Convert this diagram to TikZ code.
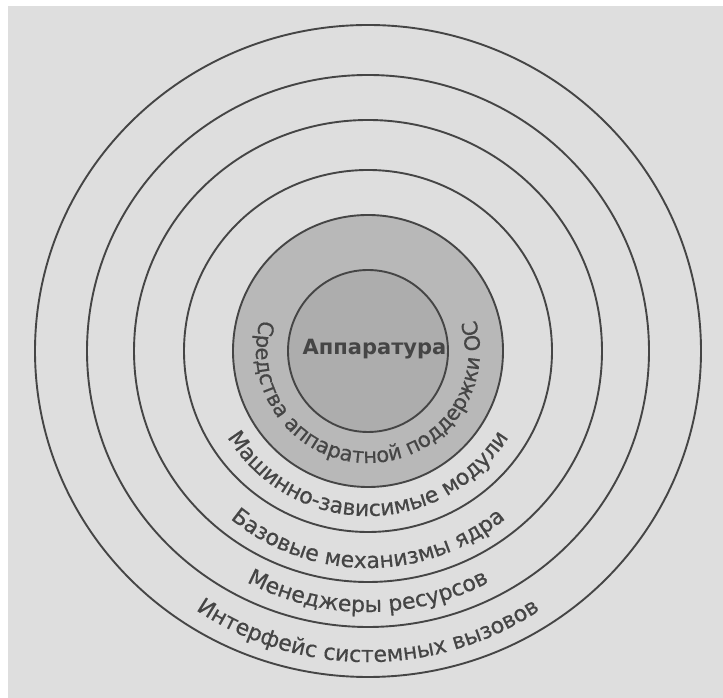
\documentclass[tikz,border=0pt]{standalone}
\usepackage{fontspec}
\setmainfont{DejaVu Sans}
\newfontfamily\ringfam[FakeBold=0.5]{DejaVu Sans}
\usetikzlibrary{decorations.text}
\definecolor{bg}{gray}{0.87}
\definecolor{ringfill}{gray}{0.72}
\definecolor{corefill}{gray}{0.68}
\definecolor{ink}{gray}{0.27}
\newcommand{\ringfont}{\ringfam\fontsize{22}{22}\selectfont}
\newcommand{\innerfont}{\ringfam\fontsize{21}{21}\selectfont}
\begin{document}
\begin{tikzpicture}[x=1pt,y=1pt,
  ring/.style={draw=ink, line width=1.9pt},
  ringtext/.style={decorate, decoration={text along path, text align=center, text color=ink}}]
\useasboundingbox (0,0) rectangle (723,698);
\fill[white] (0,0) rectangle (723,698);
\fill[bg] (8,0) rectangle (723,692);
\coordinate (c) at (368,347);
\draw[ring] (c) ellipse [x radius=333pt, y radius=326pt];
\draw[ring] (c) ellipse [x radius=281pt, y radius=276pt];
\draw[ring] (c) ellipse [x radius=234pt, y radius=231pt];
\draw[ring] (c) ellipse [x radius=184pt, y radius=181pt];
\draw[ring, fill=ringfill] (c) ellipse [x radius=135pt, y radius=136pt];
\draw[ring, fill=corefill] (c) ellipse [x radius=80pt, y radius=81pt];
\node[font=\bfseries\fontsize{21}{21}\selectfont, text=ink, anchor=base, inner sep=0pt] (hw) at (374.5,343) {Аппаратура};
\path[ringtext, decoration={text={|\innerfont|Средства аппаратной поддержки ОС}}]
  ([shift={(110:112pt)}]c) arc[start angle=110, end angle=430, radius=112pt];
\path[ringtext, decoration={text={|\ringfont|Машинно-зависимые модули}}]
  ([shift={(110:165pt)}]c) arc[start angle=110, end angle=430, radius=165pt];
\path[ringtext, decoration={text={|\ringfont|Базовые механизмы ядра}}]
  ([shift={(110:217pt)}]c) arc[start angle=110, end angle=430, radius=217pt];
\path[ringtext, decoration={text={|\ringfont|Менеджеры ресурсов}}]
  ([shift={(110:261pt)}]c) arc[start angle=110, end angle=430, radius=261pt];
\path[ringtext, decoration={text={|\ringfont|Интерфейс системных вызовов}}]
  ([shift={(110:311pt)}]c) arc[start angle=110, end angle=430, radius=311pt];
\end{tikzpicture}
\end{document}
